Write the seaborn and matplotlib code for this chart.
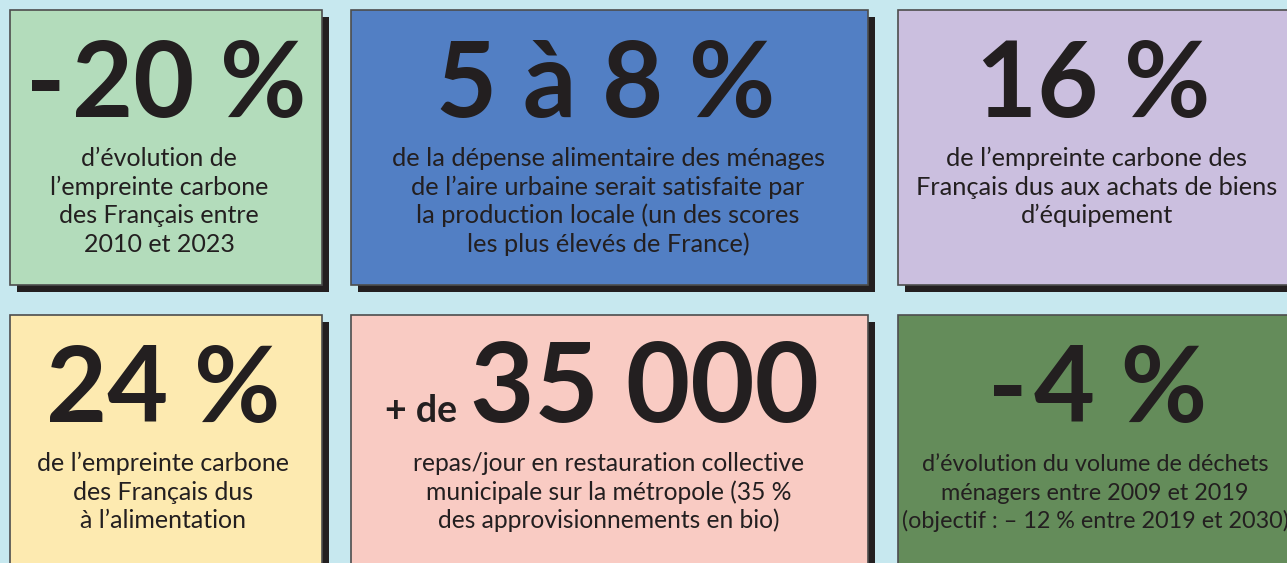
import matplotlib.pyplot as plt
import seaborn as sns
from matplotlib.patches import Rectangle

# chiffres clés
headlines = ["-\u200a20 %", "5 à 8 %", "16 %", "24 %", "35 000", "-\u200a4 %"]
prefixes = ["", "", "", "", "+ de", ""]
captions = [
    ["d’évolution de", "l’empreinte carbone", "des Français entre", "2010 et 2023"],
    ["de la dépense alimentaire des ménages", "de l’aire urbaine serait satisfaite par",
     "la production locale (un des scores", "les plus élevés de France)"],
    ["de l’empreinte carbone des", "Français dus aux achats de biens", "d’équipement"],
    ["de l’empreinte carbone", "des Français dus", "à l’alimentation"],
    ["repas/jour en restauration collective", "municipale sur la métropole (35 %",
     "des approvisionnements en bio)"],
    ["d’évolution du volume de déchets", "ménagers entre 2009 et 2019",
     "(objectif\u202f: – 12\u202f% entre 2019 et 2030)"],
]
card_colors = ["#b3dcbb", "#527fc4", "#cbbfdf", "#fdeab0", "#f9cbc3", "#648c5a"]

sns.set_theme(style="white")
plt.rcParams['font.family'] = ['Lato', 'DejaVu Sans']

ink = "#231f20"
bg = "#c7e8ef"

# mise en page (pixels)
col_x = [(10, 322), (351, 868), (898, 1300)]
row_y = [(10, 285), (315, 580)]
text_cx = [[159, 608, 1097], [163, 609, 1095]]
big_cx = [[166, 606, 1093], [163, 640, 1098]]
caption_size = [18, 18.3, 18.3, 18, 17.7, 16.8]

fig = plt.figure(figsize=(12.87, 5.63), dpi=100)
fig.patch.set_facecolor(bg)
ax = fig.add_axes([0, 0, 1, 1])
ax.set_xlim(0, 1287)
ax.set_ylim(563, 0)
ax.axis('off')

for i in range(6):
    r, c = divmod(i, 3)
    x0, x1 = col_x[c]
    y0, y1 = row_y[r]
    # ombre portée puis carte
    ax.add_patch(Rectangle((x0 + 7, y0 + 7), x1 - x0, y1 - y0, facecolor=ink, edgecolor='none', zorder=1))
    ax.add_patch(Rectangle((x0, y0), x1 - x0, y1 - y0, facecolor=card_colors[i],
                           edgecolor="#4d4d4d", linewidth=1.2, zorder=2))

    base_big = y0 + 107
    if prefixes[i]:
        ax.text(385, base_big, prefixes[i], fontsize=27, fontweight='bold', color=ink,
                ha='left', va='baseline', zorder=3)
        ax.text(470, base_big, headlines[i], fontsize=80, fontweight='bold', color=ink,
                ha='left', va='baseline', zorder=3)
    else:
        ax.text(big_cx[r][c], base_big, headlines[i], fontsize=76, fontweight='bold',
                color=ink, ha='center', va='baseline', zorder=3)

    for k, line in enumerate(captions[i]):
        ax.text(text_cx[r][c], y0 + 156 + k * 28.7, line, fontsize=caption_size[i], color=ink,
                ha='center', va='baseline', zorder=3)

fig.savefig("out.png", dpi=100, facecolor=bg)
